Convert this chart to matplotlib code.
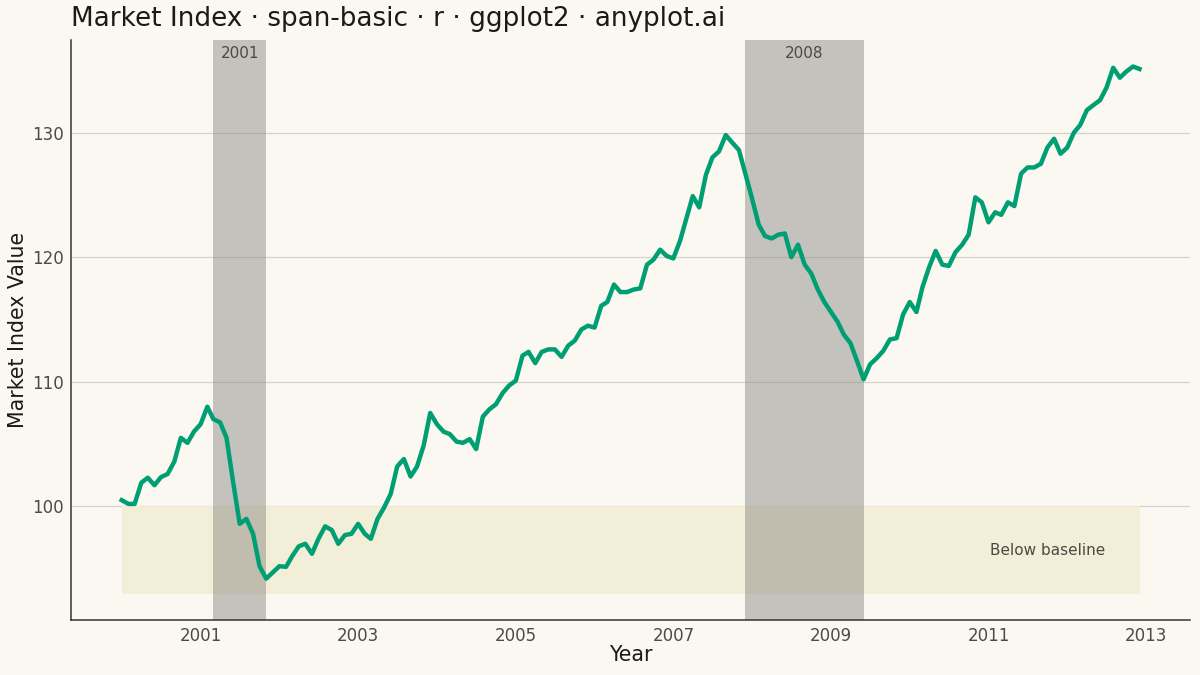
import matplotlib
matplotlib.use("Agg")
import matplotlib.pyplot as plt
import matplotlib.dates as mdates
import pandas as pd
import numpy as np

plt.rcParams["font.family"] = ["DejaVu Sans"]

# monthly index values, Jan 2000 .. Dec 2012
values = [
    100.5, 100.2, 100.2, 101.9, 102.3, 101.7, 102.35, 102.6, 103.6, 105.5, 105.1, 106.0,
    106.6, 108.0, 107.0, 106.75, 105.5, 101.9, 98.6, 99.0, 97.8, 95.2, 94.2, 94.7,
    95.2, 95.15, 96.0, 96.8, 97.0, 96.2, 97.4, 98.4, 98.1, 97.0, 97.7, 97.8,
    98.6, 97.8, 97.4, 99.0, 99.9, 101.0, 103.2, 103.8, 102.4, 103.2, 104.9, 107.5,
    106.6, 106.0, 105.8, 105.2, 105.1, 105.4, 104.6, 107.2, 107.8, 108.2, 109.1, 109.7,
    110.1, 112.1, 112.4, 111.5, 112.4, 112.6, 112.6, 112.0, 112.9, 113.3, 114.2, 114.5,
    114.35, 116.1, 116.4, 117.8, 117.2, 117.2, 117.4, 117.5, 119.4, 119.8, 120.6, 120.1,
    119.9, 121.3, 123.0, 124.9, 124.0, 126.6, 128.0, 128.5, 129.8, 129.2, 128.6, 126.7,
    124.7, 122.6, 121.7, 121.5, 121.8, 121.9, 120.0, 121.0, 119.4, 118.7, 117.4, 116.4,
    115.6, 114.8, 113.8, 113.1, 111.7, 110.2, 111.4, 111.9, 112.5, 113.4, 113.5, 115.4,
    116.4, 115.6, 117.6, 119.2, 120.5, 119.4, 119.3, 120.4, 121.0, 121.8, 124.8, 124.4,
    122.8, 123.6, 123.4, 124.4, 124.1, 126.7, 127.2, 127.2, 127.5, 128.8, 129.5, 128.3,
    128.8, 130.0, 130.6, 131.8, 132.2, 132.6, 133.6, 135.2, 134.4, 134.9, 135.3, 135.1,
]
dates = pd.date_range("2000-01-01", periods=len(values), freq="MS")

# recession spans
span_labels = ["2001", "2008"]
span_start = [pd.Timestamp("2001-03-01"), pd.Timestamp("2007-12-01")]
span_end = [pd.Timestamp("2001-11-01"), pd.Timestamp("2009-06-01")]

# baseline band
band_low, band_high = 93, 100
band_text = "Below baseline"
band_text_at = pd.Timestamp("2011-10-01")

bg = "#FAF8F1"
fig = plt.figure(figsize=(12, 6.75), dpi=100, facecolor=bg)
ax = fig.add_axes([0.059, 0.0815, 0.933, 0.859])
ax.set_facecolor(bg)

x0 = mdates.date2num(dates[0])
x1 = mdates.date2num(dates[-1])
pad = (x1 - x0) * 0.05
ymin = min(band_low, min(values))
ymax = max(values)
ypad = (ymax - ymin) * 0.05
ax.set_xlim(x0 - pad, x1 + pad)
ax.set_ylim(ymin - ypad, ymax + ypad)

# band below baseline
ax.fill_between([dates[0], dates[-1]], band_low, band_high, color="#F3EDD6", alpha=0.9, lw=0, zorder=1)
ax.text(band_text_at, (band_low + band_high) / 2, band_text,
        ha="center", va="center", fontsize=11, color="#4a4a44", zorder=4)

# shaded spans
for lab, s, e in zip(span_labels, span_start, span_end):
    ax.axvspan(s, e, color="#8f8e88", alpha=0.5, lw=0, zorder=2)
    mid = s + (e - s) / 2
    ax.text(mid, 0.99, lab, transform=ax.get_xaxis_transform(), ha="center", va="top",
            fontsize=11, color="#4a4a44", zorder=4)

ax.plot(dates, values, color="#009E73", lw=3.2, zorder=3, solid_joinstyle="round")

ax.set_yticks([100, 110, 120, 130])
ax.yaxis.grid(True, color="#d3d1c9", lw=0.9, zorder=0)
ax.xaxis.grid(False)
ax.set_axisbelow(True)
ax.set_xticks([mdates.date2num(pd.Timestamp(f"{y}-01-01")) for y in range(2001, 2014, 2)])
ax.xaxis.set_major_formatter(mdates.DateFormatter("%Y"))
ax.tick_params(length=0, labelsize=12, labelcolor="#4a4a4a", pad=5)

for side in ["top", "right"]:
    ax.spines[side].set_visible(False)
for side in ["left", "bottom"]:
    ax.spines[side].set_color("#333333")
    ax.spines[side].set_linewidth(1.1)

ax.set_xlabel("Year", fontsize=14.8, color="#1a1a1a", labelpad=0)
ax.set_ylabel("Market Index Value", fontsize=14.8, color="#1a1a1a", labelpad=3)
fig.text(0.059, 0.972, "Market Index · span-basic · r · ggplot2 · anyplot.ai",
         fontsize=18.9, color="#1a1a1a", ha="left", va="center")

fig.savefig("out.png", dpi=100, facecolor=bg)
